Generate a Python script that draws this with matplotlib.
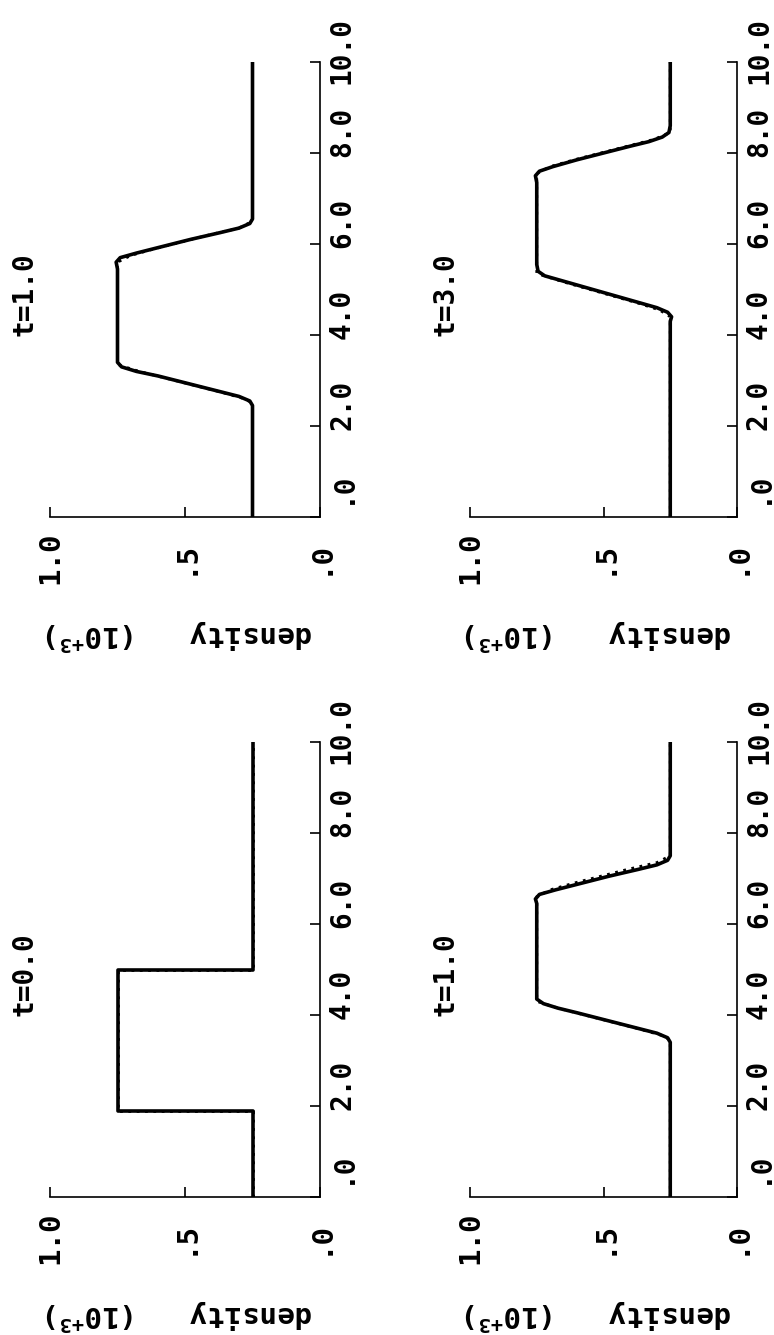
import matplotlib.pyplot as plt
import matplotlib.transforms as mtransforms

plt.rcParams['font.family'] = 'DejaVu Sans Mono'
plt.rcParams['font.weight'] = 'bold'
plt.rcParams['axes.labelweight'] = 'bold'
plt.rcParams['mathtext.fontset'] = 'custom'
plt.rcParams['mathtext.rm'] = 'DejaVu Sans Mono:bold'

# density axis (horizontal in the picture) and position axis (vertical)
rho_ticks = [1.0, 0.5, 0.0]
rho_labels = ['1.0', '.5', '.0']
pos_ticks = [0, 2, 4, 6, 8, 10]
pos_labels = ['.0', '2.0', '4.0', '6.0', '8.0', '10.0']
# labels on the position axis sit a little to the right of their ticks (px)
pos_label_shift = [30, 21, 21, 21, 21, 12]

titles = ['t=1.0', 't=3.0', 't=0.0', 't=1.0']

# computed profile, t=1.0 (top left)
pos_a = [0.0, 2.45, 2.55, 2.65, 2.80, 2.95, 3.10, 3.20, 3.30, 3.40, 5.45, 5.60, 5.70,
         5.80, 5.95, 6.10, 6.25, 6.35, 6.45, 6.55, 10.0]
rho_a = [0.25, 0.25, 0.26, 0.30, 0.40, 0.50, 0.60, 0.68, 0.735, 0.75, 0.75, 0.755, 0.74,
         0.68, 0.58, 0.48, 0.37, 0.30, 0.26, 0.25, 0.25]
# computed profile, t=3.0 (top right)
pos_b = [0.0, 4.30, 4.40, 4.50, 4.60, 4.75, 4.90, 5.05, 5.20, 5.30, 5.40, 5.55, 7.35, 7.50,
         7.60, 7.70, 7.85, 8.00, 8.15, 8.25, 8.35, 8.45, 8.60, 10.0]
rho_b = [0.25, 0.25, 0.245, 0.26, 0.30, 0.39, 0.48, 0.57, 0.66, 0.72, 0.745, 0.75, 0.75, 0.755,
         0.74, 0.69, 0.60, 0.50, 0.40, 0.33, 0.28, 0.255, 0.25, 0.25]
# initial profile, t=0.0 (bottom left)
pos_c = [0.0, 1.9, 1.9, 5.0, 5.0, 10.0]
rho_c = [0.25, 0.25, 0.75, 0.75, 0.25, 0.25]
# computed profile, t=1.0 (bottom right)
pos_d = [0.0, 3.40, 3.50, 3.60, 3.75, 3.90, 4.05, 4.15, 4.25, 4.35, 6.45, 6.55, 6.65,
         6.75, 6.90, 7.05, 7.20, 7.30, 7.40, 7.50, 10.0]
rho_d = [0.25, 0.25, 0.26, 0.30, 0.40, 0.50, 0.60, 0.67, 0.725, 0.75, 0.75, 0.755, 0.74,
         0.68, 0.58, 0.48, 0.37, 0.30, 0.26, 0.25, 0.25]

# exact solution (dotted), very close to the computed one
pos_a_ex = [0.0, 2.50, 2.60, 2.75, 2.90, 3.05, 3.20, 3.35, 5.60, 5.75, 5.90, 6.05, 6.20, 6.35, 6.50, 10.0]
rho_a_ex = [0.25, 0.25, 0.28, 0.37, 0.47, 0.57, 0.67, 0.75, 0.75, 0.70, 0.61, 0.51, 0.41, 0.30, 0.25, 0.25]
pos_b_ex = [0.0, 4.40, 4.55, 4.70, 4.85, 5.00, 5.15, 5.35, 7.55, 7.70, 7.85, 8.00, 8.15, 8.30, 8.45, 10.0]
rho_b_ex = [0.25, 0.25, 0.29, 0.37, 0.46, 0.55, 0.64, 0.75, 0.75, 0.70, 0.61, 0.51, 0.41, 0.31, 0.25, 0.25]
pos_c_ex = [0.0, 1.9, 1.9, 5.0, 5.0, 10.0]
rho_c_ex = [0.25, 0.25, 0.75, 0.75, 0.25, 0.25]
pos_d_ex = [0.0, 3.45, 3.55, 3.70, 3.85, 4.00, 4.15, 4.30, 6.60, 6.75, 6.90, 7.05, 7.20, 7.35, 7.50, 10.0]
rho_d_ex = [0.25, 0.25, 0.28, 0.37, 0.47, 0.57, 0.67, 0.75, 0.75, 0.70, 0.61, 0.51, 0.41, 0.30, 0.25, 0.25]

W, H = 774, 1335
fig = plt.figure(figsize=(W / 100, H / 100), dpi=100)

# panel boxes in pixels: left, top, right, bottom
boxes = [(50, 62, 320, 517), (470, 62, 737, 517),
         (50, 742, 320, 1197), (470, 742, 737, 1197)]
curves = [(pos_a, rho_a, pos_a_ex, rho_a_ex), (pos_b, rho_b, pos_b_ex, rho_b_ex),
          (pos_c, rho_c, pos_c_ex, rho_c_ex), (pos_d, rho_d, pos_d_ex, rho_d_ex)]

for box, (pos, rho, pos_ex, rho_ex), title in zip(boxes, curves, titles):
    x0, y0, x1, y1 = box
    ax = fig.add_axes([x0 / W, 1 - y1 / H, (x1 - x0) / W, (y1 - y0) / H])
    ax.plot(rho_ex, pos_ex, color='black', lw=2.0, ls=(0, (1, 2)), zorder=2)
    ax.plot(rho, pos, color='black', lw=2.6, zorder=3, solid_joinstyle='round')
    ax.set_xlim(1.0, 0.0)
    ax.set_ylim(0, 10)
    ax.spines['top'].set_visible(False)
    ax.spines['left'].set_visible(False)
    for s in ['bottom', 'right']:
        ax.spines[s].set_linewidth(1.2)
    ax.yaxis.tick_right()
    ax.set_xticks(rho_ticks)
    ax.set_xticklabels(rho_labels, rotation=90, va='center')
    ax.set_yticks(pos_ticks)
    ax.tick_params(direction='in', length=7, width=1.2, labelsize=21)
    ax.tick_params(axis='x', pad=29)
    ax.tick_params(axis='y', labelright=False)
    # position tick labels, written beside the right axis
    side = mtransforms.blended_transform_factory(ax.transAxes, ax.transData)
    for p, lab, dy in zip(pos_ticks, pos_labels, pos_label_shift):
        off = mtransforms.ScaledTranslation(22 / 100, dy / 100, fig.dpi_scale_trans)
        ax.text(1.0, p, lab, rotation=90, ha='center', va='center', fontsize=20,
                transform=side + off)
    ax.set_xlabel('density   (10$^{+3}$)', rotation=180, fontsize=21)
    ax.xaxis.set_label_coords(0.48, -0.22)
    ax.text(-25 / (x1 - x0), 0.49, title, rotation=90, ha='center', va='center',
            fontsize=20, transform=ax.transAxes)

fig.savefig('out.png', dpi=100, facecolor='white')
